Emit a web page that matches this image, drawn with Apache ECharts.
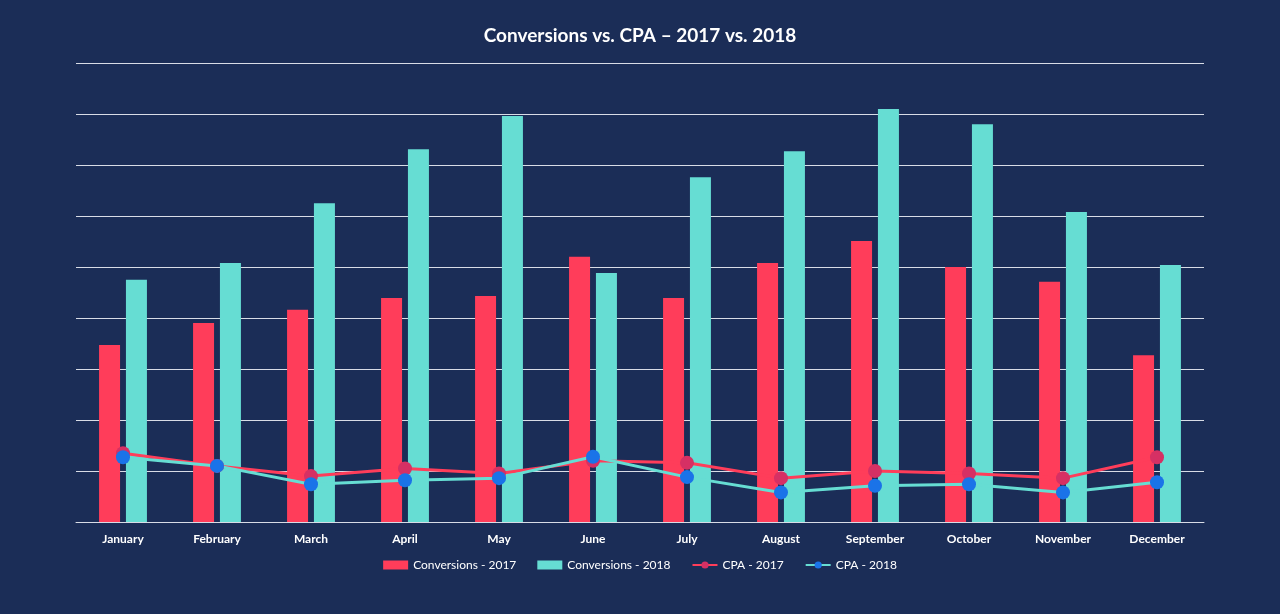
<!DOCTYPE html>
<html>
<head>
<meta charset="utf-8">
<script src="https://cdn.jsdelivr.net/npm/echarts@6/dist/echarts.min.js"></script>
<style>
html,body{margin:0;padding:0;background:#1b2d57;}
#chart{width:1280px;height:614px;}
</style>
</head>
<body>
<div id="chart"></div>
<script>
const months = ['January','February','March','April','May','June','July','August','September','October','November','December'];
const conversions2017 = [347, 390, 416, 439, 443, 520, 439, 508, 551, 500, 471, 327];
const conversions2018 = [475, 508, 625, 731, 796, 488, 676, 727, 810, 780, 608, 504];
const cpa2017 = [1.35, 1.10, 0.90, 1.05, 0.95, 1.20, 1.16, 0.86, 1.00, 0.95, 0.86, 1.27];
const cpa2018 = [1.27, 1.10, 0.74, 0.82, 0.86, 1.28, 0.88, 0.58, 0.71, 0.74, 0.58, 0.78];

const chart = echarts.init(document.getElementById('chart'));
const textFont = 'Lato, "Open Sans", sans-serif';
chart.setOption({
  backgroundColor: '#1b2d57',
  animation: false,
  title: {
    text: 'Conversions vs. CPA – 2017 vs. 2018',
    left: 'center', top: 21,
    textStyle: {color: '#ffffff', fontSize: 19, fontWeight: 'bold', fontFamily: textFont}
  },
  legend: {
    bottom: 38, left: 'center', itemGap: 21,
    itemWidth: 25, itemHeight: 9,
    textStyle: {color: '#ffffff', fontSize: 12, fontFamily: textFont},
    data: [
      {name: 'Conversions - 2017', icon: 'rect'},
      {name: 'Conversions - 2018', icon: 'rect'},
      {name: 'CPA - 2017'},
      {name: 'CPA - 2018'}
    ]
  },
  grid: {left: 76, right: 76, top: 63, bottom: 92},
  xAxis: {
    type: 'category', data: months,
    axisLine: {lineStyle: {color: '#d8dce6', width: 1}},
    axisTick: {show: false},
    axisLabel: {color: '#ffffff', fontSize: 12, fontWeight: 'bold', fontFamily: textFont, margin: 11}
  },
  yAxis: [
    {type: 'value', min: 0, max: 900, interval: 100,
     axisLabel: {show: false}, axisLine: {show: false}, axisTick: {show: false},
     splitLine: {lineStyle: {color: '#d8dce6', width: 1}}},
    {type: 'value', min: 0, max: 9, interval: 1, show: false,
     splitLine: {show: false}}
  ],
  series: [
    {name: 'Conversions - 2017', type: 'bar', data: conversions2017, barWidth: 21, barGap: '28%',
     itemStyle: {color: '#ff3d5a'}},
    {name: 'Conversions - 2018', type: 'bar', data: conversions2018, barWidth: 21,
     itemStyle: {color: '#66ddd3'}},
    {name: 'CPA - 2017', type: 'line', yAxisIndex: 1, data: cpa2017,
     symbol: 'circle', symbolSize: 14, lineStyle: {color: '#ff3d5a', width: 3},
     itemStyle: {color: '#d63064'}},
    {name: 'CPA - 2018', type: 'line', yAxisIndex: 1, data: cpa2018,
     symbol: 'circle', symbolSize: 14, lineStyle: {color: '#66ddd3', width: 3},
     itemStyle: {color: '#1a73e8'}}
  ]
});
</script>
</body>
</html>
